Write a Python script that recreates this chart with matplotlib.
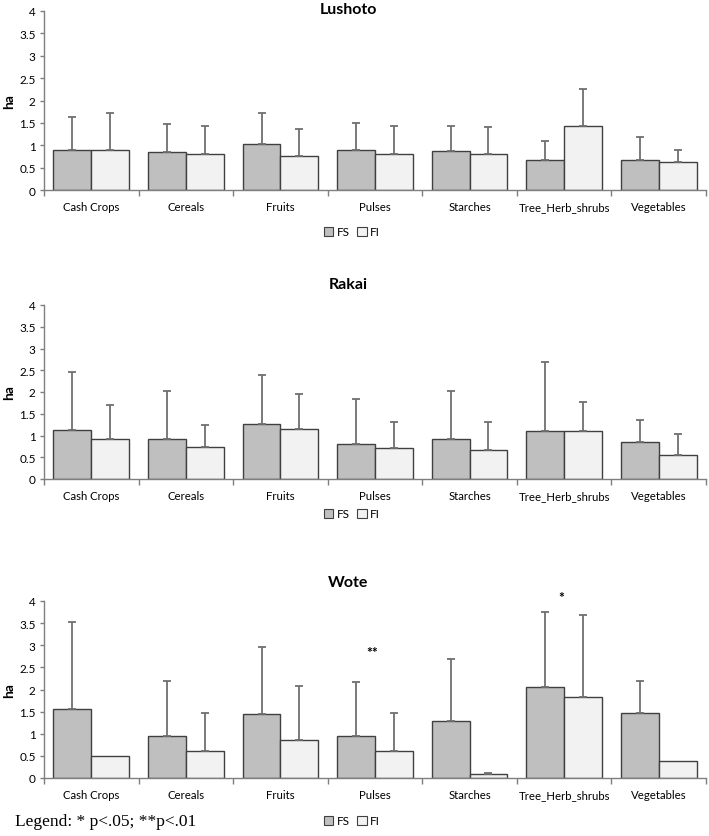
import matplotlib
matplotlib.use("Agg")
import matplotlib.pyplot as plt
import numpy as np
from matplotlib.patches import Patch

categories = ["Cash Crops", "Cereals", "Fruits", "Pulses", "Starches", "Tree_Herb_shrubs", "Vegetables"]
sites = ["Lushoto", "Rakai", "Wote"]

lushoto_fs = [0.89, 0.86, 1.03, 0.90, 0.87, 0.67, 0.67]
lushoto_fs_top = [1.63, 1.47, 1.73, 1.50, 1.43, 1.10, 1.19]
lushoto_fi = [0.89, 0.80, 0.75, 0.81, 0.81, 1.44, 0.62]
lushoto_fi_top = [1.71, 1.44, 1.36, 1.44, 1.40, 2.25, 0.90]

rakai_fs = [1.13, 0.91, 1.26, 0.80, 0.91, 1.10, 0.85]
rakai_fs_top = [2.45, 2.02, 2.40, 1.85, 2.02, 2.70, 1.35]
rakai_fi = [0.93, 0.74, 1.15, 0.72, 0.67, 1.10, 0.56]
rakai_fi_top = [1.71, 1.23, 1.96, 1.30, 1.30, 1.76, 1.03]

wote_fs = [1.55, 0.96, 1.44, 0.95, 1.28, 2.05, 1.48]
wote_fs_top = [3.53, 2.19, 2.96, 2.17, 2.68, 3.75, 2.20]
wote_fi = [0.50, 0.61, 0.85, 0.62, 0.10, 1.82, 0.39]
wote_fi_top = [None, 1.46, 2.08, 1.48, 0.12, 3.69, None]

# significance marks for Wote: (category, label, y)
wote_sig = [("Pulses", "**", 2.85), ("Tree_Herb_shrubs", "*", 4.1)]

yticks = [0, 0.5, 1, 1.5, 2, 2.5, 3, 3.5, 4]
ytick_labels = ["0", "0.5", "1", "1.5", "2", "2.5", "3", "3.5", "4"]

W, H = 709, 837
fig = plt.figure(figsize=(W / 100, H / 100), dpi=100)
plt.rcParams['font.family'] = ['Lato', 'DejaVu Sans']

FS_COL = "#bfbfbf"
FI_COL = "#f2f2f2"
EDGE = "#404040"
ECOL = "#6f6f6f"
AXCOL = "#7f7f7f"

# (top px, bottom px, title y, legend y)
layout = [(12, 191, 10, 233), (306, 480, 285, 515), (602, 779, 583, 822)]
data = [
    (lushoto_fs, lushoto_fs_top, lushoto_fi, lushoto_fi_top),
    (rakai_fs, rakai_fs_top, rakai_fi, rakai_fi_top),
    (wote_fs, wote_fs_top, wote_fi, wote_fi_top),
]

left_px, right_px = 44, 706
x = np.arange(len(categories))
bw = 0.40

for i, (site, (top, bot, ty, ly), (fs, fs_top, fi, fi_top)) in enumerate(zip(sites, layout, data)):
    ax = fig.add_axes([left_px / W, 1 - bot / H, (right_px - left_px) / W, (bot - top) / H])
    ax.bar(x - bw / 2, fs, width=bw, color=FS_COL, edgecolor=EDGE, linewidth=1.0, zorder=2)
    ax.bar(x + bw / 2, fi, width=bw, color=FI_COL, edgecolor=EDGE, linewidth=1.0, zorder=2)
    for offs, vals, tops in ((-bw / 2, fs, fs_top), (bw / 2, fi, fi_top)):
        for k, (v, t) in enumerate(zip(vals, tops)):
            if t is None:
                continue
            ax.errorbar(x[k] + offs, v, yerr=[[0], [t - v]], fmt='none', ecolor=ECOL,
                        elinewidth=1.3, capsize=3, capthick=1.3, zorder=3)
    ax.set_xlim(-0.5, len(categories) - 0.5)
    ax.set_ylim(0, 4)
    ax.set_yticks(yticks)
    ax.set_yticklabels(ytick_labels, fontsize=8.5)
    ax.set_xticks(x)
    ax.set_xticklabels(categories, fontsize=8.2)
    ax.set_xticks(np.arange(-0.5, len(categories)), minor=True)
    ax.tick_params(axis='x', which='major', length=0, pad=8)
    ax.tick_params(axis='x', which='minor', length=4, direction='out', color=AXCOL, width=1)
    ax.tick_params(axis='y', length=3, direction='out', color=AXCOL, width=1, pad=3)
    for s in ("top", "right"):
        ax.spines[s].set_visible(False)
    for s in ("left", "bottom"):
        ax.spines[s].set_color(AXCOL)
        ax.spines[s].set_linewidth(1.0)
    ax.set_ylabel("ha", fontsize=10, fontweight='bold', labelpad=3)
    ax.patch.set_alpha(0)

    fig.text(348 / W, 1 - ty / H, site, ha='center', va='center', fontsize=11.5, fontweight='bold')

    handles = [Patch(facecolor=FS_COL, edgecolor=EDGE, linewidth=0.8, label="FS"),
               Patch(facecolor=FI_COL, edgecolor=EDGE, linewidth=0.8, label="FI")]
    fig.legend(handles=handles, loc='center', bbox_to_anchor=(352 / W, 1 - ly / H), ncol=2,
               frameon=False, fontsize=8.5, handlelength=0.8, handleheight=0.8,
               handletextpad=0.3, columnspacing=0.6, borderpad=0)

    if site == "Wote":
        for cat, lab, yv in wote_sig:
            k = categories.index(cat)
            ax.text(x[k] - 0.03, yv, lab, ha='center', va='center', fontsize=10,
                    fontweight='bold', clip_on=False)

fig.text(15 / W, 1 - 822 / H, "Legend: * p<.05; **p<.01", ha='left', va='center',
         fontsize=12.5, family=['Liberation Serif', 'DejaVu Serif'])

fig.savefig("out.png", dpi=100)
